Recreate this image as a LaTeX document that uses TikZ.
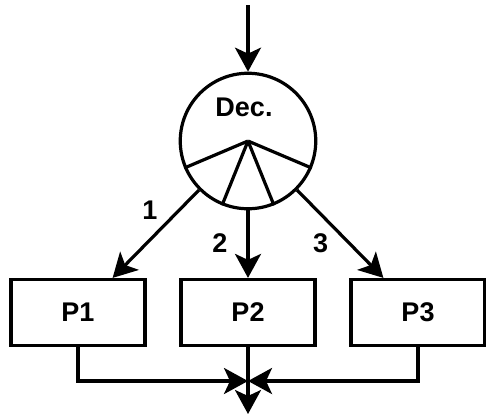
\documentclass[tikz,border=0pt]{standalone}
\usepackage{fontspec}
\setmainfont{Liberation Sans}
\usetikzlibrary{positioning,arrows.meta}

\begin{document}
\begin{tikzpicture}[x=1pt,y=-1pt,line width=3.2pt,
  font=\fontsize{27}{31}\selectfont\bfseries,
  >={Stealth[length=24pt,width=26pt,inset=6pt]},
  proc/.style={draw,minimum width=134pt,minimum height=66pt,inner sep=0},
  lbl/.style={inner sep=0}]
\useasboundingbox (0,0) rectangle (486,416);
% decision circle with its fan
\node[draw,circle,minimum size=135.5pt,inner sep=0] (dec) at (248,141) {};
\node (declbl) at (244,107) {Dec.};
\draw (dec.center)--(dec.203) (dec.center)--(dec.248) (dec.center)--(dec.292) (dec.center)--(dec.337);
% the three branches
\node[proc] (p1) at (78,312.5) {P1};
\node[proc] (p2) at (248,312.5) {P2};
\node[proc] (p3) at (418,312.5) {P3};
\coordinate (in) at (248,5);
\coordinate (mrg) at (248,381);
\coordinate (out) at (248,414);
\draw[->] (in)--(dec.north);
\draw[->] (dec.225)--node[lbl,pos=0.23,left=20pt] {1} (p1.45);
\draw[->] (dec.south)--node[lbl,pos=0.48,left=19pt] {2} (p2.north);
\draw[->] (dec.315)--node[lbl,pos=0.6,left=19pt] {3} (p3.135);
\draw[->] (p1.south) |- (mrg);
\draw[->] (p3.south) |- (mrg);
\draw[->] (p2.south)--(out);
\end{tikzpicture}
\end{document}
